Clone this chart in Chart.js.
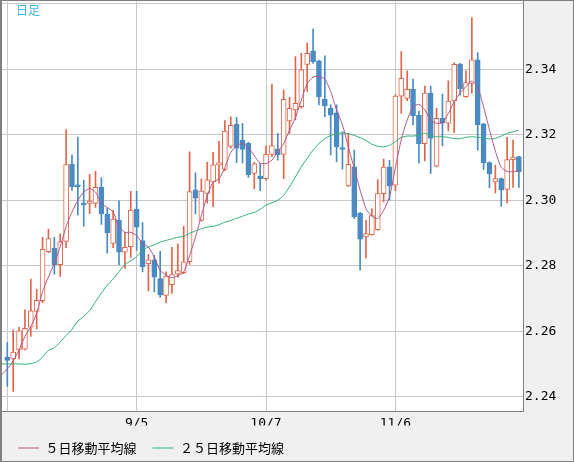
<!DOCTYPE html>
<html lang="ja">
<head>
    <meta charset="UTF-8">
    <title>日足</title>
    <script src="https://cdn.jsdelivr.net/npm/chart.js"></script>
    <style>
        body { margin: 0; padding: 0; background: #f0f0f0; overflow: hidden; }
        canvas { display: block; }
    </style>
</head>
<body>
    <canvas id="dailyChart" width="574" height="462"></canvas>

    <script>
        // one trading day per candle, 8/6 .. 12/5
        const dates = [
            '8/6','8/7','8/8','8/9','8/12','8/13','8/14','8/15','8/16','8/19','8/20','8/21','8/22','8/23',
            '8/26','8/27','8/28','8/29','8/30','9/2','9/3','9/4','9/5','9/6','9/9','9/10','9/11','9/12',
            '9/13','9/16','9/17','9/18','9/19','9/20','9/23','9/24','9/25','9/26','9/27','9/30','10/1','10/2',
            '10/3','10/4','10/7','10/8','10/9','10/10','10/11','10/14','10/15','10/16','10/17','10/18','10/21','10/22',
            '10/23','10/24','10/25','10/28','10/29','10/30','10/31','11/1','11/4','11/5','11/6','11/7','11/8','11/11',
            '11/12','11/13','11/14','11/15','11/18','11/19','11/20','11/21','11/22','11/25','11/26','11/27','11/28','11/29',
            '12/2','12/3','12/4','12/5'
        ];

        const opens = [
            2.2521, 2.2515, 2.2543, 2.2545, 2.2612, 2.2660, 2.2693, 2.2843, 2.2854, 2.2803, 2.2874, 2.3110, 2.3045, 2.2991,
            2.2990, 2.2990, 2.3039, 2.2957, 2.2868, 2.2939, 2.2841, 2.2858, 2.2973, 2.2877, 2.2806, 2.2818, 2.2761, 2.2709,
            2.2742, 2.2775, 2.2779, 2.2812, 2.3032, 2.2938, 2.3021, 2.3056, 2.3108, 2.3094, 2.3164, 2.3232, 2.3184, 2.3174,
            2.3082, 2.3074, 2.3066, 2.3140, 2.3156, 2.3140, 2.3242, 2.3276, 2.3286, 2.3415, 2.3456, 2.3426, 2.3308, 2.3281,
            2.3267, 2.3160, 2.3044, 2.3102, 2.2961, 2.2888, 2.2895, 2.2910, 2.3020, 2.3102, 2.3046, 2.3318, 2.3311, 2.3339,
            2.3259, 2.3173, 2.3327, 2.3104, 2.3250, 2.3235, 2.3303, 2.3416, 2.3316, 2.3357, 2.3429, 2.3233, 2.3115, 2.3056,
            2.3066, 2.3033, 2.3124, 2.3133
        ];
        const highs = [
            2.2565, 2.2604, 2.2612, 2.2665, 2.2759, 2.2728, 2.2887, 2.2912, 2.2887, 2.2897, 2.3216, 2.3139, 2.3193, 2.3061,
            2.3079, 2.3088, 2.3069, 2.2976, 2.2970, 2.2998, 2.2902, 2.3027, 2.3027, 2.2932, 2.2835, 2.2832, 2.2844, 2.2781,
            2.2856, 2.2867, 2.2920, 2.3148, 2.3084, 2.3065, 2.3116, 2.3146, 2.3180, 2.3243, 2.3255, 2.3253, 2.3235, 2.3177,
            2.3116, 2.3113, 2.3165, 2.3355, 2.3204, 2.3337, 2.3314, 2.3439, 2.3449, 2.3480, 2.3523, 2.3428, 2.3441, 2.3291,
            2.3291, 2.3209, 2.3204, 2.3153, 2.2963, 2.2939, 2.2974, 2.3063, 2.3126, 2.3122, 2.3322, 2.3454, 2.3395, 2.3370,
            2.3272, 2.3349, 2.3349, 2.3281, 2.3324, 2.3365, 2.3420, 2.3418, 2.3395, 2.3558, 2.3451, 2.3235, 2.3117, 2.3107,
            2.3068, 2.3192, 2.3184, 2.3135
        ];
        const lows = [
            2.2431, 2.2416, 2.2515, 2.2543, 2.2584, 2.2607, 2.2687, 2.2840, 2.2774, 2.2767, 2.2855, 2.3030, 2.2954, 2.2921,
            2.2959, 2.2978, 2.2926, 2.2838, 2.2855, 2.2803, 2.2792, 2.2825, 2.2847, 2.2781, 2.2723, 2.2720, 2.2703, 2.2687,
            2.2715, 2.2765, 2.2776, 2.2804, 2.2958, 2.2936, 2.2991, 2.2981, 2.3052, 2.3090, 2.3159, 2.3115, 2.3114, 2.3070,
            2.3035, 2.3029, 2.3061, 2.3133, 2.3122, 2.3066, 2.3204, 2.3245, 2.3281, 2.3332, 2.3418, 2.3291, 2.3255, 2.3138,
            2.3117, 2.3095, 2.3041, 2.2944, 2.2786, 2.2824, 2.2893, 2.2908, 2.2995, 2.3000, 2.3029, 2.3265, 2.3304, 2.3230,
            2.3114, 2.3120, 2.3082, 2.3102, 2.3166, 2.3212, 2.3206, 2.3321, 2.3314, 2.3327, 2.3153, 2.3094, 2.3038, 2.3022,
            2.2982, 2.2992, 2.3039, 2.3039
        ];
        const closes = [
            2.2511, 2.2536, 2.2601, 2.2609, 2.2662, 2.2694, 2.2850, 2.2883, 2.2803, 2.2874, 2.3109, 2.3041, 2.3041, 2.2986,
            2.2997, 2.3039, 2.2958, 2.2901, 2.2942, 2.2841, 2.2856, 2.2970, 2.2918, 2.2796, 2.2818, 2.2765, 2.2711, 2.2768,
            2.2773, 2.2785, 2.2812, 2.3026, 2.3006, 2.3028, 2.3062, 2.3108, 2.3115, 2.3211, 2.3229, 2.3159, 2.3155, 2.3078,
            2.3111, 2.3066, 2.3140, 2.3167, 2.3138, 2.3308, 2.3281, 2.3296, 2.3398, 2.3449, 2.3423, 2.3316, 2.3288, 2.3260,
            2.3163, 2.3155, 2.3110, 2.2949, 2.2881, 2.2898, 2.2953, 2.3020, 2.3101, 2.3044, 2.3318, 2.3372, 2.3339, 2.3258,
            2.3173, 2.3327, 2.3189, 2.3250, 2.3235, 2.3303, 2.3415, 2.3341, 2.3359, 2.3429, 2.3230, 2.3114, 2.3080, 2.3066,
            2.3031, 2.3124, 2.3132, 2.3087
        ];

        // moving averages, first value is the day before the first candle (off the left edge)
        const ma5 = [
            2.2466,
            2.2485, 2.2508, 2.2543, 2.2584, 2.2614, 2.2655, 2.2721, 2.2766, 2.2807, 2.2858, 2.2919, 2.2964, 2.3000, 2.3025,
            2.3036, 2.3025, 2.2990, 2.2978, 2.2964, 2.2919, 2.2902, 2.2902, 2.2892, 2.2867, 2.2857, 2.2826, 2.2786, 2.2771,
            2.2763, 2.2769, 2.2781, 2.2831, 2.2887, 2.2953, 2.3014, 2.3055, 2.3065, 2.3100, 2.3146, 2.3166, 2.3174, 2.3161,
            2.3136, 2.3113, 2.3112, 2.3122, 2.3148, 2.3173, 2.3214, 2.3252, 2.3306, 2.3357, 2.3376, 2.3378, 2.3370, 2.3332,
            2.3276, 2.3230, 2.3163, 2.3097, 2.3031, 2.2974, 2.2951, 2.2944, 2.2969, 2.3010, 2.3100, 2.3185, 2.3245, 2.3285,
            2.3293, 2.3276, 2.3245, 2.3235, 2.3237, 2.3265, 2.3301, 2.3327, 2.3347, 2.3364, 2.3345, 2.3285, 2.3215, 2.3150,
            2.3100, 2.3088, 2.3087, 2.3090
        ];
        const ma25 = [
            2.2500,
            2.2500, 2.2500, 2.2500, 2.2499, 2.2501, 2.2506, 2.2521, 2.2541, 2.2549, 2.2567, 2.2586, 2.2606, 2.2631, 2.2645,
            2.2663, 2.2690, 2.2716, 2.2741, 2.2759, 2.2782, 2.2804, 2.2815, 2.2828, 2.2847, 2.2857, 2.2864, 2.2872, 2.2877,
            2.2882, 2.2887, 2.2890, 2.2899, 2.2906, 2.2913, 2.2918, 2.2920, 2.2925, 2.2933, 2.2938, 2.2945, 2.2951, 2.2958,
            2.2963, 2.2972, 2.2985, 2.2992, 2.3000, 2.3015, 2.3041, 2.3071, 2.3102, 2.3128, 2.3153, 2.3173, 2.3188, 2.3198,
            2.3203, 2.3206, 2.3203, 2.3198, 2.3191, 2.3183, 2.3171, 2.3165, 2.3163, 2.3168, 2.3179, 2.3192, 2.3196, 2.3196,
            2.3199, 2.3204, 2.3197, 2.3194, 2.3194, 2.3192, 2.3188, 2.3188, 2.3192, 2.3194, 2.3192, 2.3191, 2.3187, 2.3189,
            2.3196, 2.3204, 2.3209, 2.3214
        ];

        const xTickIdx = [0, 22, 44, 66];
        const yTickValues = [2.24, 2.26, 2.28, 2.30, 2.32, 2.34, 2.36];
        const yTickLabels = ['2.24', '2.26', '2.28', '2.30', '2.32', '2.34', ''];

        const UP = '#e0664a';
        const DOWN = '#4a8bc4';
        const MA5_COLOR = '#b5558a';
        const MA25_COLOR = '#2eb174';
        const GRID = '#c8c8c8';
        const FRAME = '#808080';

        const isUp = closes.map((c, i) => c >= opens[i]);
        const bodyData = opens.map((o, i) => ({ x: i, y: [o, closes[i]] }));
        const wickData = highs.map((h, i) => ({ x: i, y: [lows[i], h] }));
        const ma5Data = ma5.map((v, i) => ({ x: i - 1, y: v }));
        const ma25Data = ma25.map((v, i) => ({ x: i - 1, y: v }));

        // panel background, frame and the 日足 caption
        const framePlugin = {
            id: 'frame',
            beforeDraw(chart) {
                const { ctx, chartArea: a } = chart;
                ctx.save();
                ctx.fillStyle = '#f0f0f0';
                ctx.fillRect(0, 0, chart.width, chart.height);
                ctx.fillStyle = '#ffffff';
                ctx.fillRect(a.left, a.top, a.right - a.left, a.bottom - a.top);
                ctx.restore();
            },
            afterDraw(chart) {
                const { ctx } = chart;
                ctx.save();
                ctx.strokeStyle = FRAME;
                ctx.lineWidth = 1;
                ctx.strokeRect(0.5, 0.5, chart.width - 1, chart.height - 1);
                ctx.beginPath();
                ctx.moveTo(1.5, 0);
                ctx.lineTo(1.5, chart.height);
                ctx.stroke();
                ctx.fillStyle = '#3db7e4';
                ctx.font = '12px "Noto Sans CJK JP"';
                ctx.textBaseline = 'middle';
                ctx.fillText('日足', 16, 10.5);
                ctx.restore();
            }
        };

        const ctx = document.getElementById('dailyChart').getContext('2d');
        const dailyChart = new Chart(ctx, {
            type: 'bar',
            data: {
                datasets: [
                    {
                        type: 'line',
                        label: '５日移動平均線',
                        data: ma5Data,
                        borderColor: MA5_COLOR,
                        backgroundColor: MA5_COLOR,
                        borderWidth: 1,
                        pointRadius: 0,
                        tension: 0.2,
                        order: 0
                    },
                    {
                        type: 'line',
                        label: '２５日移動平均線',
                        data: ma25Data,
                        borderColor: MA25_COLOR,
                        backgroundColor: MA25_COLOR,
                        borderWidth: 1,
                        pointRadius: 0,
                        tension: 0.2,
                        order: 1
                    },
                    {
                        label: 'body',
                        data: bodyData,
                        backgroundColor: isUp.map(u => u ? '#ffffff' : DOWN),
                        borderColor: isUp.map(u => u ? UP : DOWN),
                        borderWidth: 1,
                        borderSkipped: false,
                        barThickness: 5,
                        minBarLength: 2,
                        grouped: false,
                        order: 2
                    },
                    {
                        label: 'wick',
                        data: wickData,
                        backgroundColor: isUp.map(u => u ? UP : DOWN),
                        borderWidth: 0,
                        barThickness: 1,
                        grouped: false,
                        order: 3
                    }
                ]
            },
            options: {
                responsive: false,
                animation: false,
                events: [],
                layout: { padding: { left: 2, top: 1.5, right: 0, bottom: -2.5 } },
                scales: {
                    x: {
                        type: 'linear',
                        min: -0.9,
                        max: 87.7,
                        offset: false,
                        grid: { color: GRID, drawTicks: false, offset: false },
                        border: { color: FRAME },
                        afterBuildTicks(scale) {
                            scale.ticks = xTickIdx.map(v => ({ value: v }));
                        },
                        afterFit(scale) {
                            scale.height = 13.8;
                            scale.paddingLeft = scale.paddingRight = 0;
                            scale.paddingTop = scale.paddingBottom = 0;
                        },
                        ticks: {
                            autoSkip: false,
                            maxRotation: 0,
                            padding: 4,
                            color: '#000000',
                            font: { family: '"DejaVu Sans Mono"', size: 13 },
                            callback: (value, index) => index === 0 ? '' : dates[value]
                        }
                    },
                    y: {
                        position: 'right',
                        min: 2.2354,
                        max: 2.3607,
                        grid: { color: GRID, drawTicks: false },
                        border: { color: FRAME },
                        afterBuildTicks(scale) {
                            scale.ticks = yTickValues.map(v => ({ value: v }));
                        },
                        afterFit(scale) {
                            scale.width = 51;
                            scale.paddingLeft = scale.paddingRight = 0;
                            scale.paddingTop = scale.paddingBottom = 0;
                        },
                        ticks: {
                            autoSkip: false,
                            padding: 2,
                            color: '#000000',
                            font: { family: '"DejaVu Sans Mono"', size: 13 },
                            callback: (value, index) => yTickLabels[index]
                        }
                    }
                },
                plugins: {
                    tooltip: { enabled: false },
                    legend: {
                        position: 'bottom',
                        align: 'start',
                        labels: {
                            boxWidth: 21,
                            boxHeight: 1,
                            padding: 16,
                            color: '#000000',
                            font: { family: '"Noto Sans CJK JP"', size: 13 },
                            generateLabels: (chart) => Chart.defaults.plugins.legend.labels.generateLabels(chart)
                                .filter(item => item.datasetIndex < 2)
                                .map(item => Object.assign(item, { lineWidth: 0, fillStyle: item.strokeStyle }))
                        }
                    }
                }
            },
            plugins: [framePlugin]
        });
    </script>
</body>
</html>
